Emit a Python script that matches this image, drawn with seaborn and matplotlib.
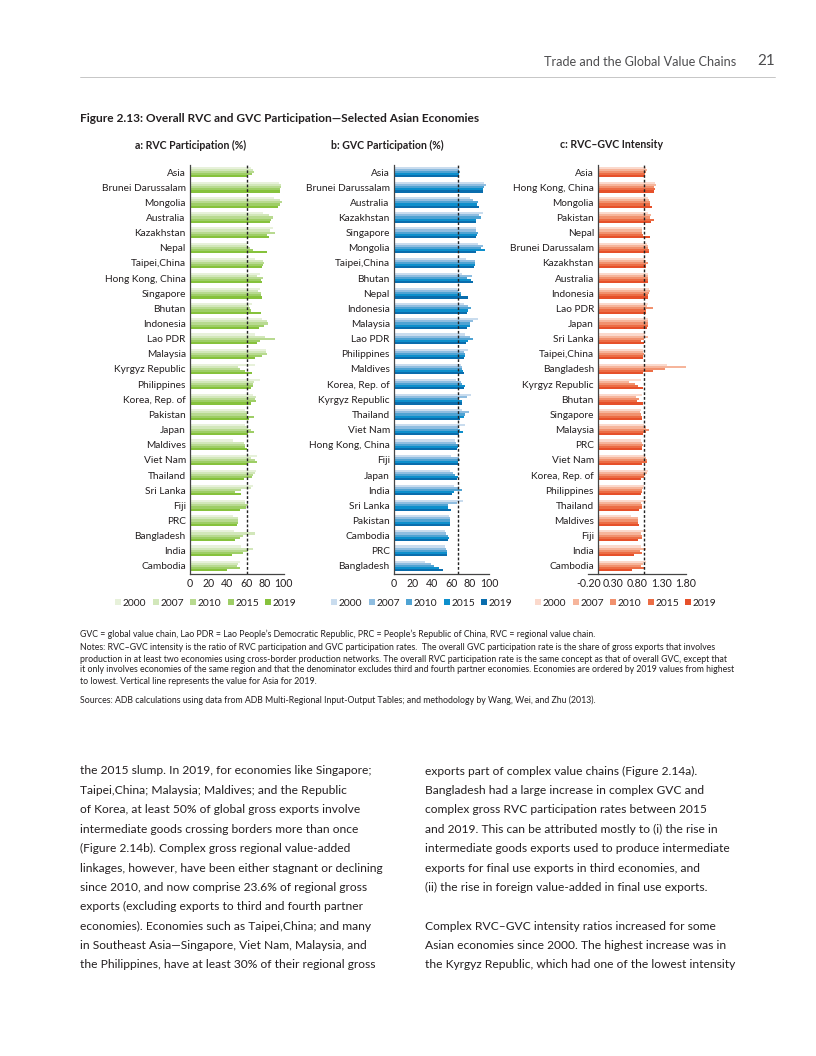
import numpy as np
import pandas as pd
import matplotlib
matplotlib.use("Agg")
from matplotlib import pyplot as plt
from matplotlib.patches import Patch
import seaborn as sns

sns.set_style("white")
plt.rcParams['font.family'] = ['Lato', 'DejaVu Sans']

years = ["2000", "2007", "2010", "2015", "2019"]

# panel a: RVC participation (%), rows ordered as in the figure
rvc_econ = ["Asia", "Brunei Darussalam", "Mongolia", "Australia", "Kazakhstan", "Nepal",
            "Taipei,China", "Hong Kong, China", "Singapore", "Bhutan", "Indonesia", "Lao PDR",
            "Malaysia", "Kyrgyz Republic", "Philippines", "Korea, Rep. of", "Pakistan", "Japan",
            "Maldives", "Viet Nam", "Thailand", "Sri Lanka", "Fiji", "PRC", "Bangladesh",
            "India", "Cambodia"]
rvc_2000 = [65, 95, 90, 78, 89, 61, 69, 75, 75, 66, 77, 70, 81, 70, 75, 67, 59, 59, 46, 72, 71, 67, 59, 46, 47, 55, 53]
rvc_2007 = [67, 97, 96, 84, 86, 62, 78, 72, 73, 63, 82, 80, 81, 51, 68, 71, 62, 62, 58, 65, 69, 65, 59, 51, 70, 67, 51]
rvc_2010 = [68, 97, 98, 89, 91, 64, 79, 78, 76, 64, 83, 91, 82, 53, 67, 70, 61, 65, 59, 69, 67, 55, 62, 51, 57, 62, 50]
rvc_2015 = [66, 96, 96, 87, 82, 67, 78, 76, 76, 65, 79, 75, 77, 59, 67, 71, 68, 68, 59, 72, 66, 48, 60, 51, 54, 57, 54]
rvc_2019 = [61, 96, 94, 86, 84, 82, 77, 77, 76.5, 76, 74, 72, 69, 66, 65, 65, 63, 62, 61, 61, 58, 55, 54, 50, 48, 45, 40]

# panel b: GVC participation (%)
gvc_econ = ["Asia", "Brunei Darussalam", "Australia", "Kazakhstan", "Singapore", "Mongolia",
            "Taipei,China", "Bhutan", "Nepal", "Indonesia", "Malaysia", "Lao PDR", "Philippines",
            "Maldives", "Korea, Rep. of", "Kyrgyz Republic", "Thailand", "Viet Nam",
            "Hong Kong, China", "Fiji", "Japan", "India", "Sri Lanka", "Pakistan", "Cambodia",
            "PRC", "Bangladesh"]
gvc_2000 = [67, 95, 80, 94, 86, 88, 76, 72, 66, 74, 88, 75, 78, 70, 65, 81, 72, 75, 64, 60, 59, 63, 73, 58, 54, 54, 33]
gvc_2007 = [68, 97, 83, 89, 86, 94, 85, 82, 67, 78, 83, 80, 74, 72, 70, 77, 79, 67, 65, 68, 62, 68, 66, 59, 55, 55, 39]
gvc_2010 = [69, 95, 88, 92, 88, 92, 85, 77, 70, 81, 80, 83, 75, 72, 72, 68, 75, 69, 67, 69, 64, 72, 57, 59, 57, 56, 42]
gvc_2015 = [68, 94, 87, 86, 87, 96, 85, 81, 70, 78, 80, 78, 75, 73, 75, 72, 74, 73, 67, 67, 67, 63, 57, 59, 58, 56, 47]
gvc_2019 = [67, 94, 89, 86, 86, 86, 84, 83, 78, 77, 77, 76, 74, 74, 74, 72, 69, 68, 66, 67, 66, 61, 60, 59, 57, 56, 52]

# panel c: RVC-GVC intensity
int_econ = ["Asia", "Hong Kong, China", "Mongolia", "Pakistan", "Nepal", "Brunei Darussalam",
            "Kazakhstan", "Australia", "Indonesia", "Lao PDR", "Japan", "Sri Lanka",
            "Taipei,China", "Bangladesh", "Kyrgyz Republic", "Bhutan", "Singapore", "Malaysia",
            "PRC", "Viet Nam", "Korea, Rep. of", "Philippines", "Thailand", "Maldives", "Fiji",
            "India", "Cambodia"]
int_2000 = [0.99, 1.17, 1.02, 1.02, 0.90, 1.00, 0.97, 1.02, 1.04, 1.02, 1.02, 0.96, 0.92, 1.42, 0.87, 0.90, 0.87, 0.93, 0.88, 0.96, 1.03, 0.94, 0.98, 0.67, 0.99, 0.87, 0.99]
int_2007 = [1.00, 1.19, 1.04, 1.08, 0.90, 1.02, 0.98, 1.02, 1.06, 1.00, 1.03, 1.02, 0.92, 1.81, 0.63, 0.78, 0.86, 0.98, 0.90, 0.98, 1.00, 0.91, 0.88, 0.81, 0.87, 0.98, 0.92]
int_2010 = [0.99, 1.15, 1.07, 1.07, 0.90, 1.03, 1.02, 1.02, 1.04, 1.13, 1.02, 0.94, 0.93, 1.36, 0.76, 0.83, 0.88, 1.04, 0.91, 1.00, 0.97, 0.90, 0.90, 0.82, 0.90, 0.86, 0.88]
int_2015 = [0.97, 1.17, 1.06, 1.14, 0.91, 1.04, 0.99, 1.03, 1.02, 0.98, 1.02, 0.87, 0.92, 1.12, 0.81, 0.80, 0.89, 0.99, 0.90, 1.00, 0.95, 0.90, 0.89, 0.81, 0.90, 0.90, 0.93]
int_2019 = [0.93, 1.15, 1.10, 1.08, 1.06, 1.04, 0.99, 1.02, 1.02, 0.99, 1.00, 0.94, 0.92, 0.92, 0.92, 0.91, 0.90, 0.91, 0.90, 0.89, 0.88, 0.88, 0.84, 0.83, 0.81, 0.74, 0.70]

green = ["#e7f1da", "#d2e7ba", "#b8da90", "#9ece66", "#86c23c"]
blue = ["#c9dcee", "#8fbde0", "#4fa3d3", "#0d8fcc", "#0a6dad"]
red = ["#fbd9cc", "#f6b59b", "#f1916e", "#ec6d45", "#e6502a"]

W, H = 816, 1056
fig = plt.figure(figsize=(W / 100, H / 100), dpi=100)

def fx(x):
    return x / W

def fy(y):
    return 1 - y / H

def long_df(econ, cols):
    rows = []
    for yr, vals in zip(years, cols):
        for e, v in zip(econ, vals):
            rows.append((e, yr, v))
    return pd.DataFrame(rows, columns=["economy", "year", "value"])

ink = "#231f20"
top_px, bot_px = 164.5, 573.5

def panel(x0, x1, econ, cols, pal, xlim, xticks, xlabels, zero_spine=False):
    ax = fig.add_axes([fx(x0), fy(bot_px), fx(x1 - x0), (bot_px - top_px) / H])
    df = long_df(econ, cols)
    sns.barplot(data=df, x="value", y="economy", hue="year", order=econ, hue_order=years,
                palette=pal, orient="h", width=0.7, saturation=1, linewidth=0,
                legend=False, ax=ax)
    ax.set_xlim(*xlim)
    ax.set_ylim(len(econ) - 0.5, -0.5)
    # vertical reference line: Asia 2019
    ax.axvline(cols[-1][0], color="#222222", lw=1.0, ls=(0, (2.0, 1.4)), zorder=5)
    for s in ["top", "right"]:
        ax.spines[s].set_visible(False)
    for s in ["left", "bottom"]:
        ax.spines[s].set_color("#444444")
        ax.spines[s].set_linewidth(0.9)
    if zero_spine:
        ax.spines["left"].set_position(("data", 0))
    ax.set_xticks(xticks)
    ax.set_xticklabels(xlabels)
    ax.set_yticks(np.arange(len(econ)))
    ax.set_yticklabels(econ)
    ax.set_yticks(np.arange(-0.5, len(econ), 1), minor=True)
    ax.tick_params(axis="y", which="major", length=0, pad=3, labelsize=7.3, labelcolor=ink)
    ax.tick_params(axis="y", which="minor", length=2.5, direction="in", color="#444444", width=0.8)
    ax.tick_params(axis="x", length=2.5, direction="in", color="#444444", width=0.8,
                   pad=3, labelsize=7.6, labelcolor=ink)
    ax.set_xlabel("")
    ax.set_ylabel("")
    ax.set_facecolor("none")
    return ax

panel(190, 283.5, rvc_econ, [rvc_2000, rvc_2007, rvc_2010, rvc_2015, rvc_2019], green,
      (0, 100), [0, 20, 40, 60, 80, 100], ["0", "20", "40", "60", "80", "100"])
panel(394, 489, gvc_econ, [gvc_2000, gvc_2007, gvc_2010, gvc_2015, gvc_2019], blue,
      (0, 100), [0, 20, 40, 60, 80, 100], ["0", "20", "40", "60", "80", "100"])
panel(588.3, 686, int_econ, [int_2000, int_2007, int_2010, int_2015, int_2019], red,
      (-0.2, 1.8), [-0.2, 0.3, 0.8, 1.3, 1.8], ["-0.20", "0.30", "0.80", "1.30", "1.80"],
      zero_spine=True)

# legends
for pal, cx in [(green, 206), (blue, 422), (red, 626)]:
    handles = [Patch(facecolor=c, edgecolor="none") for c in pal]
    fig.legend(handles, years, loc="center", bbox_to_anchor=(fx(cx), fy(603)), ncol=5,
               frameon=False, fontsize=7.4, handlelength=0.6, handleheight=0.6,
               handletextpad=0.15, columnspacing=0.6, labelcolor=ink)

# header
fig.text(fx(736), fy(62), "Trade and the Global Value Chains", ha="right", va="center",
         fontsize=9.1, color="#4d4d4f")
fig.text(fx(757), fy(61), "21", ha="left", va="center", fontsize=11, color="#4d4d4f")
fig.add_artist(plt.Line2D([fx(80), fx(775)], [fy(77), fy(77)], color="#bdbdbd", lw=0.6))

# titles
fig.text(fx(80), fy(118), "Figure 2.13: Overall RVC and GVC Participation\u2014Selected Asian Economies",
         ha="left", va="center", fontsize=8.6, fontweight="bold", color=ink)
fig.text(fx(191), fy(145), "a: RVC Participation (%)", ha="center", va="center",
         fontsize=7.6, fontweight="bold", color=ink)
fig.text(fx(387), fy(145), "b: GVC Participation (%)", ha="center", va="center",
         fontsize=7.6, fontweight="bold", color=ink)
fig.text(fx(612), fy(145), "c: RVC\u2013GVC Intensity", ha="center", va="center",
         fontsize=7.6, fontweight="bold", color=ink)

# notes
note_fs = 6.35
fig.text(fx(80), fy(634), "GVC = global value chain, Lao PDR = Lao People\u2019s Democratic Republic, "
         "PRC = People\u2019s Republic of China, RVC = regional value chain.",
         ha="left", va="center", fontsize=note_fs, color=ink)
notes = [
    "Notes: RVC\u2013GVC intensity is the ratio of RVC participation and GVC participation rates.  "
    "The overall GVC participation rate is the share of gross exports that involves",
    "production in at least two economies using cross-border production networks. The overall RVC "
    "participation rate is the same concept as that of overall GVC, except that",
    "it only involves economies of the same region and that the denominator excludes third and fourth "
    "partner economies. Economies are ordered by 2019 values from highest",
    "to lowest. Vertical line represents the value for Asia for 2019.",
]
for i, line in enumerate(notes):
    fig.text(fx(80), fy(648 + 11 * i), line, ha="left", va="center", fontsize=note_fs, color=ink)
fig.text(fx(80), fy(700), "Sources: ADB calculations using data from ADB Multi-Regional Input-Output "
         "Tables; and methodology by Wang, Wei, and Zhu (2013).",
         ha="left", va="center", fontsize=note_fs, color=ink)

# body text
left_col = [
    "the 2015 slump. In 2019, for economies like Singapore;",
    "Taipei,China; Malaysia; Maldives; and the Republic",
    "of Korea, at least 50% of global gross exports involve",
    "intermediate goods crossing borders more than once",
    "(Figure 2.14b). Complex gross regional value-added",
    "linkages, however, have been either stagnant or declining",
    "since 2010, and now comprise 23.6% of regional gross",
    "exports (excluding exports to third and fourth partner",
    "economies). Economies such as Taipei,China; and many",
    "in Southeast Asia\u2014Singapore, Viet Nam, Malaysia, and",
    "the Philippines, have at least 30% of their regional gross",
]
right_col = [
    "exports part of complex value chains (Figure 2.14a).",
    "Bangladesh had a large increase in complex GVC and",
    "complex gross RVC participation rates between 2015",
    "and 2019. This can be attributed mostly to (i) the rise in",
    "intermediate goods exports used to produce intermediate",
    "exports for final use exports in third economies, and",
    "(ii) the rise in foreign value-added in final use exports.",
    "",
    "Complex RVC\u2013GVC intensity ratios increased for some",
    "Asian economies since 2000. The highest increase was in",
    "the Kyrgyz Republic, which had one of the lowest intensity",
]
body_fs = 8.65
for i, line in enumerate(left_col):
    fig.text(fx(80), fy(771 + 19.4 * i), line, ha="left", va="center", fontsize=body_fs, color=ink)
for i, line in enumerate(right_col):
    fig.text(fx(425), fy(771 + 19.4 * i), line, ha="left", va="center", fontsize=body_fs, color=ink)

fig.savefig("out.png", dpi=100)
